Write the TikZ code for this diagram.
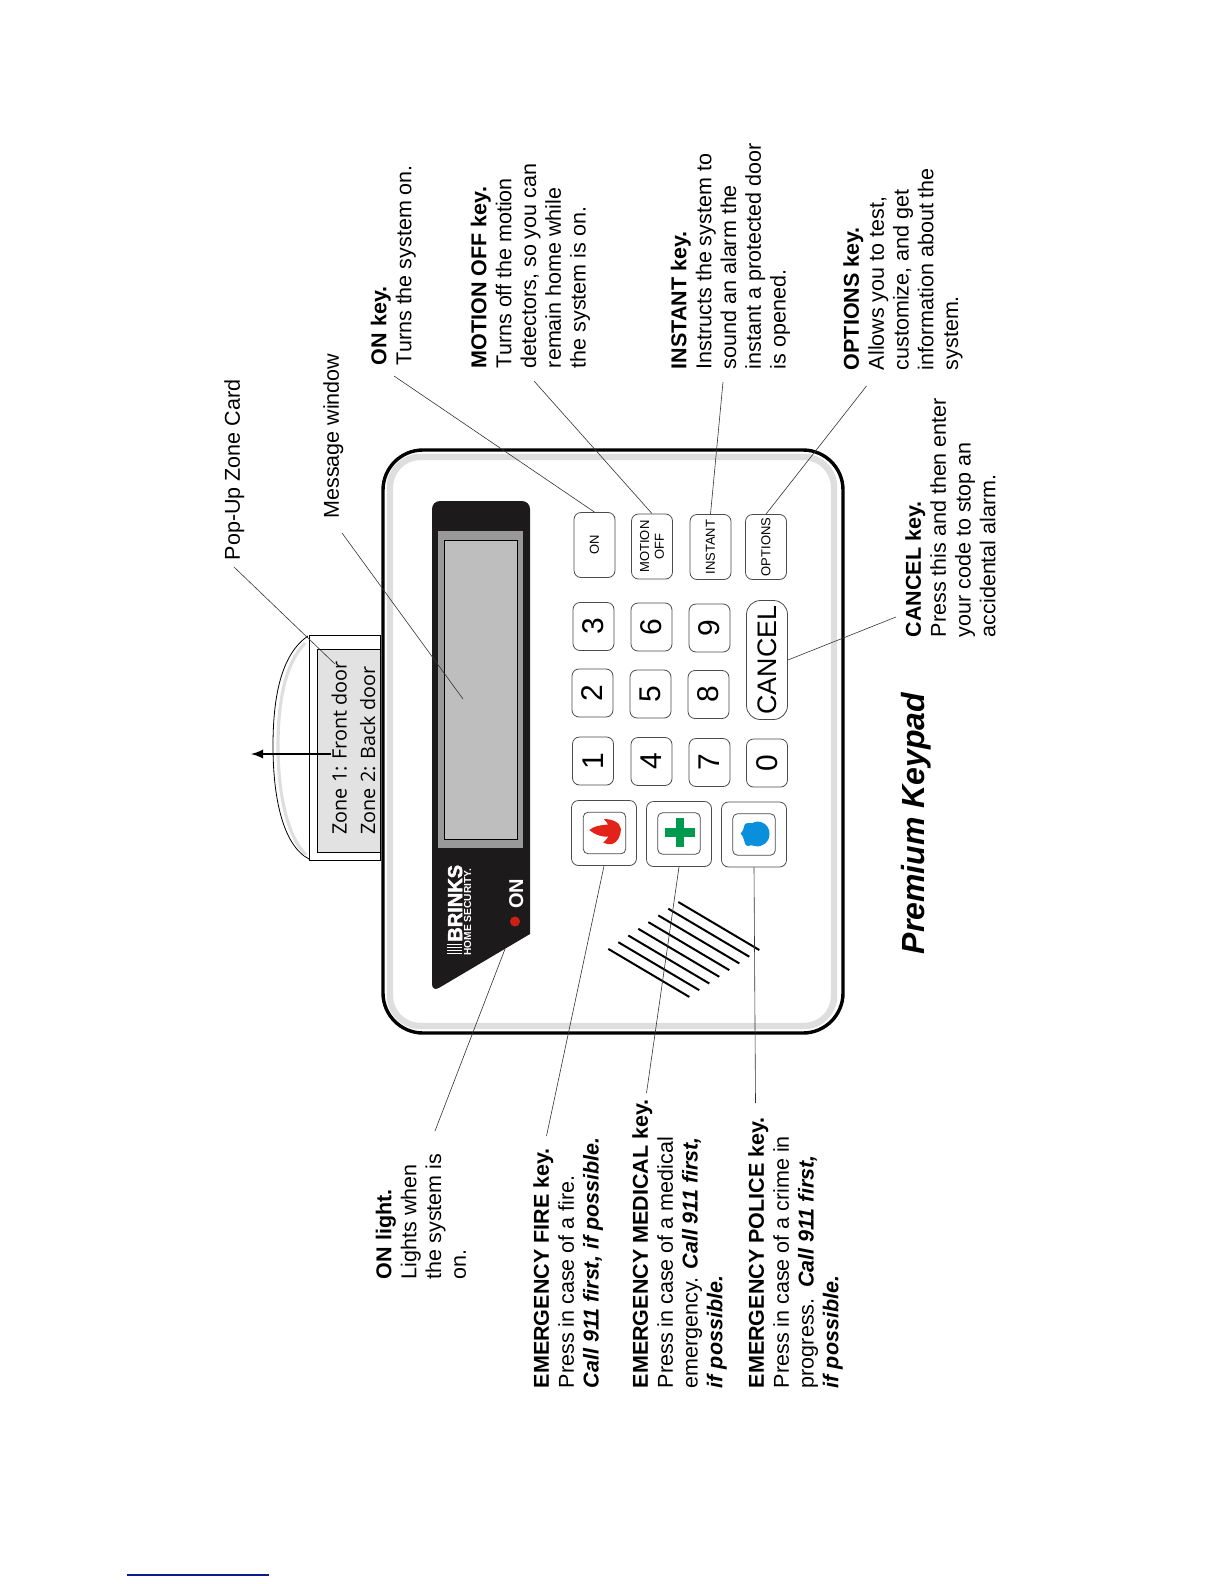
\documentclass[tikz,border=0pt]{standalone}
\usepackage{fontspec}
\setmainfont{Liberation Sans}
\newfontfamily\cardfont{Open Sans}
\newfontfamily\logofont[FakeBold=2.5]{Liberation Sans Bold}
\definecolor{panelblack}{HTML}{1C1A1A}
\definecolor{panelgray}{HTML}{999999}
\definecolor{lcdgray}{HTML}{BEBEBE}
\definecolor{bandgray}{HTML}{DEDEDE}
\definecolor{cardgray}{HTML}{E2E2E2}
\definecolor{firered}{HTML}{E2231A}
\definecolor{medgreen}{HTML}{009A4E}
\definecolor{badgeblue}{HTML}{0A8FDC}
\definecolor{pagelink}{HTML}{0A1A8C}
\tikzset{
  callout/.style={rotate=90,anchor=north west,inner sep=0pt,align=left,
    font=\fontsize{10.75}{12.4}\selectfont},
  leader/.style={draw=black!80,line width=0.3pt},
  zoneline/.style={rotate=90,anchor=base west,inner sep=0pt,font=\cardfont\fontsize{9.9}{9.9}\selectfont},
  logotext/.style={rotate=90,anchor=base west,inner sep=0pt,white},
  numkey/.style={rotate=90,draw=black!70,line width=0.4pt,rounded corners=3.5pt,inner sep=0pt,
    minimum width=24pt,minimum height=20.5pt,font=\fontsize{15}{15}\selectfont},
  fnkey/.style={numkey,minimum width=32.5pt,align=center,font=\fontsize{6.5}{7.4}\selectfont},
  sosouter/.style={numkey,minimum width=32.5pt,minimum height=32.5pt},
  sosinner/.style={numkey,minimum width=20.8pt,minimum height=21.3pt,rounded corners=2.5pt}
}
\begin{document}
\begin{tikzpicture}[x=0.5pt,y=-0.5pt]
  \useasboundingbox (0,0) rectangle (1224,1584);
  % page mark
  \draw[pagelink,line width=0.6pt] (127,1575) -- (269,1575);
  % pop-up card
  \draw[black,line width=0.4pt] (308,636) .. controls (280,655) and (273,700) .. (273,746)
    .. controls (273,795) and (282,845) .. (309,859);
  \draw[bandgray,line width=1.6pt] (305,643) .. controls (284,665) and (278,705) .. (278,746)
    .. controls (278,790) and (286,835) .. (306,855);
  \filldraw[fill=white,draw=black,line width=0.4pt] (309.5,635.5) rectangle (380.5,860);
  \filldraw[fill=cardgray,draw=black,line width=0.4pt] (317.5,649.5) rectangle (380.5,852);
  \node[zoneline] (zoneOne) at (346.5,835) {Zone 1: Front door};
  \node[zoneline] (zoneTwo) at (375,835) {Zone 2: Back door};
  % keypad body
  \filldraw[fill=white,draw=black,line width=1.7pt,rounded corners=20pt] (383,450) rectangle (843,1033);
  \draw[bandgray,line width=3.2pt,rounded corners=15pt] (390,457) rectangle (834,1026);
  % display
  \fill[panelblack] (530,934) [rounded corners=4pt] -- (530,501) -- (432,501) -- (432,992)
    [sharp corners] -- cycle;
  \fill[panelgray] (438,531) rectangle (523,848);
  \filldraw[fill=lcdgray,draw=black,line width=0.4pt] (444.5,540) rectangle (517,839.5);
  % logo
  \foreach \y in {944.5,947.5,950.5,953.5}
    \draw[white,line width=0.7pt] (447,\y) -- (462,\y);
  \node[logotext,font=\logofont\fontsize{10}{10}\selectfont] (logoName) at (462,942) {BRINKS};
  \node[logotext,font=\fontsize{5.1}{5.1}\selectfont\bfseries] (logoSub) at (471,956) {HOME SECURITY.};
  \filldraw[firered!90!black] (515,921.5) circle (2.3pt);
  \node[logotext,font=\fontsize{10}{10}\selectfont\bfseries] (onLamp) at (523,909) {ON};
  % function keys
  \node[fnkey] (keyOn) at (594.5,545) {ON};
  \node[fnkey] (keyMotion) at (652,546.5) {MOTION\\OFF};
  \node[fnkey] (keyInstant) at (710.5,547) {INSTANT};
  \node[fnkey] (keyOptions) at (766,547) {OPTIONS};
  % number keys
  \node[numkey] (keyThree) at (593.5,626.5) {3};
  \node[numkey] (keyTwo) at (592.5,693) {2};
  \node[numkey] (keyOne) at (593,761) {1};
  \node[numkey] (keySix) at (651.5,627) {6};
  \node[numkey] (keyFive) at (650.5,694) {5};
  \node[numkey] (keyFour) at (651.5,761.5) {4};
  \node[numkey] (keyNine) at (709.5,628) {9};
  \node[numkey] (keyEight) at (708.5,694.5) {8};
  \node[numkey] (keySeven) at (709.5,762.5) {7};
  \node[numkey] (keyZero) at (767,763) {0};
  \node[numkey,minimum width=59.5pt,rounded corners=7pt,font=\fontsize{13.4}{13.4}\selectfont] (keyCancel) at (767,660) {CANCEL};
  % emergency keys
  \node[sosouter] (keyFire) at (604,833) {};
  \node[sosinner] (capFire) at (604.5,833) {};
  \node[sosouter] (keyMedical) at (679,834) {};
  \node[sosinner] (capMedical) at (679,833.5) {};
  \node[sosouter] (keyPolice) at (754,834.5) {};
  \node[sosinner] (capPolice) at (754,834.5) {};
  % flame
  \fill[firered] (589.3,830) .. controls (594,826) and (601,825) .. (608,824.5)
    .. controls (607,822) and (605,820) .. (603.5,819) .. controls (612,819) and (620,822) .. (621,829)
    .. controls (621,836) and (617,843) .. (612,844) .. controls (609,844.5) and (606,844) .. (603.3,842.7)
    .. controls (605,841) and (607,839) .. (608.3,836.7) .. controls (602,837) and (595,835) .. (589.3,830) -- cycle;
  % cross
  \fill[medgreen] (665,828.3) rectangle (695,836.7);
  \fill[medgreen] (676,817.7) rectangle (684,847.3);
  % badge
  \fill[badgeblue] (740.7,833.5) .. controls (742,831) and (744,830) .. (744,827)
    .. controls (744,824) and (747,822) .. (749,823) .. controls (751,824) and (753,823) .. (755,822)
    .. controls (763,820) and (769.5,826) .. (769.5,834) .. controls (769.5,842) and (762,848) .. (755,846)
    .. controls (752,845) and (750,845) .. (748,846) .. controls (746,846) and (744,843) .. (744,840)
    .. controls (744,837) and (742,836) .. (740.7,833.5) -- cycle;
  % speaker
  \foreach \i in {0,...,7}
    \draw[black,line width=1pt] ({678.3-10*\i},{902+6.7*\i}) -- ({759.3-10*\i},{950+6.7*\i});
  % labels
  \node[callout] (lblCard) at (224,560.5) {Pop-Up Zone Card};
  \node[callout] (lblWindow) at (323,519) {Message window};
  \node[callout] (lblOn) at (370.5,365.5) {\textbf{ON key.}\\Turns the system on.};
  \node[callout] (lblMotion) at (470.5,368.5) {\textbf{MOTION OFF key.}\\Turns off the motion\\detectors, so you can\\remain home while\\the system is on.};
  \node[callout] (lblInstant) at (670.5,369.5) {\textbf{INSTANT key.}\\Instructs the system to\\sound an alarm the\\instant a protected door\\is opened.};
  \node[callout] (lblOptions) at (843,370.5) {\textbf{OPTIONS key.}\\Allows you to test,\\customize, and get\\information about the\\system.};
  \node[callout] (lblCancel) at (905,637.5) {\textbf{CANCEL key.}\\Press this and then enter\\your code to stop an\\accidental alarm.};
  \node[callout] (lblLight) at (375.5,1279.5) {\textbf{ON light.}\\Lights when\\the system is\\on.};
  \node[callout] (lblFire) at (533,1388.5) {\textbf{EMERGENCY FIRE key.}\\Press in case of a fire.\\\textbf{\textit{Call 911 first, if possible.}}};
  \node[callout] (lblMedical) at (632,1388.5) {\textbf{EMERGENCY MEDICAL key.}\\Press in case of a medical\\emergency. \textbf{\textit{Call 911 first,}}\\\textbf{\textit{if possible.}}};
  \node[callout] (lblPolice) at (748,1388.5) {\textbf{EMERGENCY POLICE key.}\\Press in case of a crime in\\progress.\enspace\textbf{\textit{Call 911 first,}}\\\textbf{\textit{if possible.}}};
  \node[rotate=90,anchor=base west,inner sep=0pt,font=\fontsize{16}{16}\selectfont\bfseries\itshape] (lblTitle) at (924,954.5) {Premium Keypad};
  % leader ends
  \coordinate (fromCard) at (234,567);
  \coordinate (toCard) at (335,664);
  \coordinate (fromWindow) at (342,533);
  \coordinate (toWindow) at (463,699);
  \coordinate (fromOn) at (394,376);
  \coordinate (fromMotion) at (534,381);
  \coordinate (fromInstant) at (723,382);
  \coordinate (fromOptions) at (866.5,386);
  \coordinate (fromCancel) at (896,617);
  \coordinate (fromLight) at (435,1131);
  \coordinate (toLight) at (505,949);
  \coordinate (fromFire) at (546.5,1136);
  \coordinate (fromMedical) at (646.5,1093);
  \coordinate (fromPolice) at (755.5,1103);
  \coordinate (pullTail) at (331,754);
  \coordinate (pullTip) at (251,754);
  % leaders
  \draw[leader] (fromCard) -- (toCard);
  \draw[leader] (fromWindow) -- (toWindow);
  \draw[leader] (fromOn) -- (keyOn.east);
  \draw[leader] (fromMotion) -- (keyMotion.east);
  \draw[leader] (fromInstant) -- (keyInstant.east);
  \draw[leader] (fromOptions) -- (keyOptions.east);
  \draw[leader] (fromCancel) -- (keyCancel.south);
  \draw[leader] (fromLight) -- (toLight);
  \draw[leader] (fromFire) -- (keyFire.west);
  \draw[leader] (fromMedical) -- (keyMedical.west);
  \draw[leader] (fromPolice) -- (keyPolice.west);
  \draw[->,>=latex,black,line width=1.1pt] (pullTail) -- (pullTip);
\end{tikzpicture}
\end{document}
